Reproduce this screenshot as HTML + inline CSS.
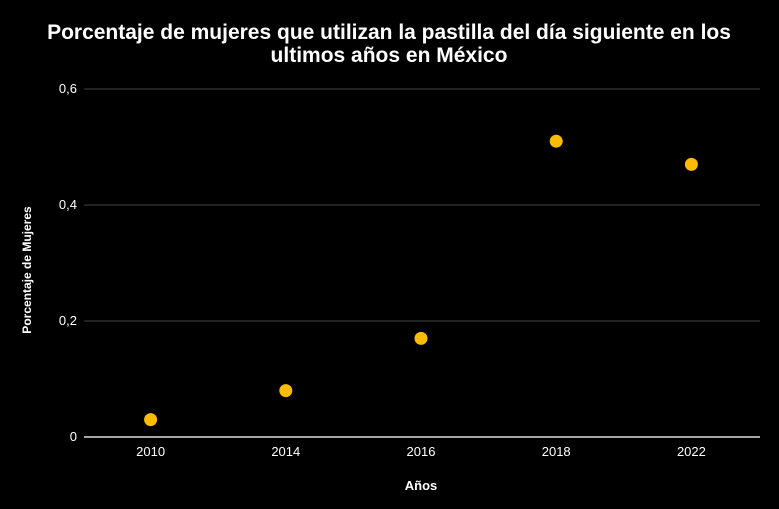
<!DOCTYPE html>
<html><head><meta charset="utf-8"><style>
body{margin:0;background:#000;}
svg{display:block;font-family:"Liberation Sans",Arial,sans-serif;}
</style></head><body>
<svg id="chart" width="779" height="509">
<rect width="779" height="509" fill="#000"/>
<text x="389" y="39" text-anchor="middle" fill="#fff" font-size="21" font-weight="bold">Porcentaje de mujeres que utilizan la pastilla del día siguiente en los</text>
<text x="389" y="62" text-anchor="middle" fill="#fff" font-size="21" font-weight="bold">ultimos años en México</text>
<text transform="translate(31,270) rotate(-90)" text-anchor="middle" fill="#fff" font-size="12" font-weight="bold">Porcentaje de Mujeres</text>
<text x="421" y="490" text-anchor="middle" fill="#fff" font-size="13" font-weight="bold">Años</text>
<g id="grid"></g><g id="points"></g>
</svg>
<script>
const categories=["2010","2014","2016","2018","2022"];
const values=[0.03,0.08,0.17,0.51,0.47];
const yTicks=[0,0.2,0.4,0.6];
const yTickLabels=["0","0,2","0,4","0,6"];
const NS="http://www.w3.org/2000/svg";
const left=83,right=759,y0=437,y1=89,ymax=0.6;
const band=(right-left)/categories.length;
function xs(i){return left+band*(i+0.5);}
function ys(v){return y0-(v/ymax)*(y0-y1);}
const g=document.getElementById('grid'),p=document.getElementById('points');
yTicks.forEach((t,i)=>{
 const l=document.createElementNS(NS,'line');
 l.setAttribute('x1',84);l.setAttribute('x2',760);l.setAttribute('y1',ys(t));l.setAttribute('y2',ys(t));
 l.setAttribute('stroke',t===0?'#ddd':'#444');l.setAttribute('stroke-width',t===0?1.5:1);
 
 
 g.appendChild(l);
 const tx=document.createElementNS(NS,'text');
 tx.setAttribute('x',77);tx.setAttribute('y',ys(t)+4);tx.setAttribute('text-anchor','end');
 tx.setAttribute('fill','#fff');tx.setAttribute('font-size','13');tx.textContent=yTickLabels[i];
 
 
 g.appendChild(tx);
});
categories.forEach((c,i)=>{
 const tx=document.createElementNS(NS,'text');
 tx.setAttribute('x',xs(i));tx.setAttribute('y',456);tx.setAttribute('text-anchor','middle');
 tx.setAttribute('fill','#fff');tx.setAttribute('font-size','13');tx.textContent=c;
 
 
 g.appendChild(tx);
 const ci=document.createElementNS(NS,'circle');
 ci.setAttribute('cx',xs(i));ci.setAttribute('cy',ys(values[i]));ci.setAttribute('r',6.5);
 ci.setAttribute('fill','#fbbc04');
 
 
 p.appendChild(ci);
});
</script>
</body></html>
